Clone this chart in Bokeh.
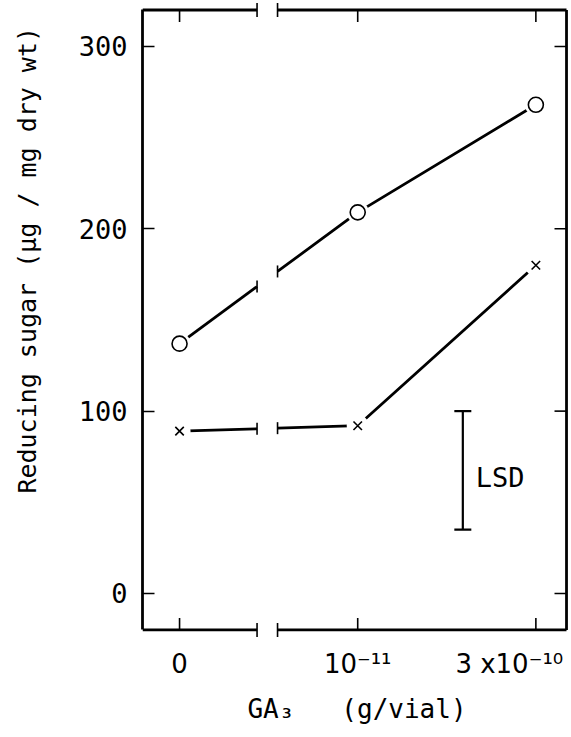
import math
from bokeh.plotting import figure
from bokeh.models import Range1d, FixedTicker
from bokeh.core.properties import value
from bokeh.embed import file_html
from bokeh.resources import INLINE

# ---------------- data ----------------
ga3_pos = [0, 1, 2]
ga3_labels = ["0", "10\u207b\u00b9\u00b9", "3 x10\u207b\u00b9\u2070" + "\u00a0" * 1]
sugar_circle = [137, 209, 268]
sugar_cross = [89, 92, 180]
y_ticks = [0, 100, 200, 300]
lsd_x = 1.59
lsd_low = 35
lsd_high = 100

# ---------------- layout ----------------
X_LO, X_HI, X_END = -0.208, 2.172, 2.200
Y_LO, Y_HI = -20, 320
Y_START, Y_END = -25.8, 325.2
BREAK_L, BREAK_R = 0.435, 0.55
FONT = "DejaVu Sans Mono"
TICK_FONT = "DejaVu Sans"
W, H = 571, 737
LW = 2.8

p = figure(width=W, height=H, output_backend="svg", toolbar_location=None,
           x_range=Range1d(X_LO, X_END), y_range=Range1d(Y_START, Y_END),
           min_border_left=142, min_border_right=0, min_border_top=0,
           min_border_bottom=97)
p.outline_line_color = None
p.grid.visible = False
p.background_fill_color = "white"
p.border_fill_color = "white"

# left axis
ya = p.yaxis[0]
ya.ticker = FixedTicker(ticks=y_ticks)
ya.bounds = (Y_LO, Y_HI)
ya.axis_line_width = LW
ya.major_tick_in = 12
ya.major_tick_out = 0
ya.major_tick_line_width = 1.6
ya.minor_tick_line_color = None
ya.major_label_standoff = 15
ya.major_label_text_font = FONT
ya.major_label_text_font_size = "27px"
ya.major_label_text_color = "black"
ya.axis_label = "\u00a0" * 8 + "Reducing\u00a0sugar\u00a0(\u00b5g\u00a0/\u00a0mg\u00a0dry\u00a0wt)"
ya.axis_label_text_font = FONT
ya.axis_label_text_font_size = "25px"
ya.axis_label_text_font_style = "normal"
ya.axis_label_text_color = "black"
ya.axis_label_standoff = 34

# bottom axis (labels only)
xa = p.xaxis[0]
xa.ticker = FixedTicker(ticks=ga3_pos)
xa.major_label_overrides = {pos: lab for pos, lab in zip(ga3_pos, ga3_labels)}
xa.axis_line_color = None
xa.major_tick_line_color = None
xa.minor_tick_line_color = None
xa.major_tick_in = 0
xa.major_tick_out = 0
xa.major_label_standoff = 8
xa.major_label_text_font = TICK_FONT
xa.major_label_text_font_size = "26px"
xa.major_label_text_color = "black"
xa.axis_label = "GA\u2083\u00a0\u00a0\u00a0(g/vial)"
xa.axis_label_text_font = FONT
xa.axis_label_text_font_size = "26px"
xa.axis_label_text_font_style = "normal"
xa.axis_label_text_color = "black"
xa.axis_label_standoff = 12

# right frame line with inward ticks
p.segment(x0=[X_HI], y0=[Y_LO], x1=[X_HI], y1=[Y_HI], line_color="black", line_width=LW)
p.ray(x=[X_HI] * len(y_ticks), y=y_ticks, length=12, angle=math.pi,
      length_units="screen", line_color="black", line_width=1.6)

# broken top / bottom frame lines
for yy in (Y_LO, Y_HI):
    p.multi_line(xs=[[X_LO, BREAK_L], [BREAK_R, X_HI]], ys=[[yy, yy], [yy, yy]],
                 line_color="black", line_width=LW)
    p.scatter(x=[BREAK_L, BREAK_R], y=[yy, yy], marker="dash", angle=math.pi / 2,
              size=14, line_color="black", line_width=1.6)

# inward ticks on top and bottom
p.ray(x=ga3_pos, y=[Y_LO] * len(ga3_pos), length=12, angle=math.pi / 2,
      length_units="screen", line_color="black", line_width=1.6)
p.ray(x=ga3_pos, y=[Y_HI] * len(ga3_pos), length=12, angle=-math.pi / 2,
      length_units="screen", line_color="black", line_width=1.6)


def interp(xq, xs, ys):
    return ys[0] + (ys[1] - ys[0]) * (xq - xs[0]) / (xs[1] - xs[0])


for ys in (sugar_circle, sugar_cross):
    yl = interp(BREAK_L, ga3_pos, ys)
    yr = interp(BREAK_R, ga3_pos, ys)
    p.multi_line(xs=[[ga3_pos[0], BREAK_L], [BREAK_R] + ga3_pos[1:]],
                 ys=[[ys[0], yl], [yr] + ys[1:]],
                 line_color="black", line_width=LW)
    p.scatter(x=[BREAK_L, BREAK_R], y=[yl, yr], marker="dash", angle=math.pi / 2,
              size=12, line_color="black", line_width=1.6)

# white halos so lines stop short of markers
p.scatter(x=ga3_pos, y=sugar_circle, size=22, fill_color="white", line_color=None)
p.scatter(x=ga3_pos, y=sugar_cross, size=22, fill_color="white", line_color=None)

p.scatter(x=ga3_pos, y=sugar_circle, marker="circle", size=15,
          fill_color="white", line_color="black", line_width=1.6)
p.scatter(x=ga3_pos, y=sugar_cross, marker="x", size=12,
          line_color="black", line_width=1.6)

# LSD bar
p.segment(x0=[lsd_x], y0=[lsd_low], x1=[lsd_x], y1=[lsd_high],
          line_color="black", line_width=2.2)
p.scatter(x=[lsd_x, lsd_x], y=[lsd_low, lsd_high], marker="dash", size=17,
          line_color="black", line_width=2.2)
p.text(x=[lsd_x], y=[(lsd_low + lsd_high) / 2], text=["LSD"], x_offset=13, y_offset=7,
       text_align="left", text_baseline="middle", text_font=value(FONT),
       text_font_size="27px", text_color="black")

open("out.html", "w").write(file_html(p, INLINE))
